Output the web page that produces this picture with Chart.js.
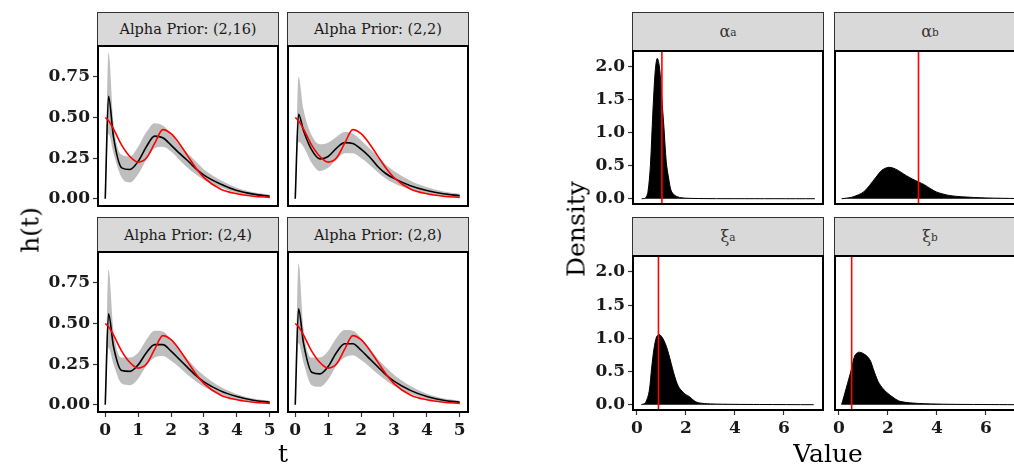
<!DOCTYPE html>
<html>
<head>
<meta charset="utf-8">
<script src="https://cdn.jsdelivr.net/npm/chart.js@4.4.1/dist/chart.umd.min.js"></script>
<style>
  html, body { margin: 0; padding: 0; background: #fff; }
  body { width: 1014px; height: 465px; overflow: hidden; position: relative; font-family: "DejaVu Serif", serif; }
  canvas { position: absolute; }
  .frame { position: absolute; border: 2px solid #000; box-sizing: border-box; pointer-events: none; }
  .strip { position: absolute; background: #d9d9d9; border: 1px solid #333; box-sizing: border-box;
           display: flex; align-items: center; justify-content: center; color: #1a1a1a; font-size: 14.5px; }
  .strip.greek { font-size: 16px; color: #333; }
  .strip sub { font-size: 10.5px; vertical-align: -3px; }
  .title { position: absolute; font-size: 25px; color: #000; white-space: nowrap; }
</style>
</head>
<body>
<script>
// hazard panels: t grid, true hazard (red), posterior mean (black), 95% band (grey)
const tGrid = [0, 0.1, 0.25, 0.5, 0.75, 1, 1.25, 1.5, 1.75, 2, 2.25, 2.5, 2.75, 3, 3.5, 4, 4.5, 5];
const trueHazard = [0.50, 0.48, 0.43, 0.33, 0.26, 0.225, 0.25, 0.34, 0.425, 0.40, 0.34, 0.265, 0.19, 0.13, 0.06, 0.03, 0.015, 0.008];

const priorLabels = ['Alpha Prior: (2,16)', 'Alpha Prior: (2,2)', 'Alpha Prior: (2,4)', 'Alpha Prior: (2,8)'];
const meanH = [
  [0, 0.63, 0.38, 0.19, 0.18, 0.23, 0.32, 0.385, 0.375, 0.33, 0.28, 0.235, 0.185, 0.145, 0.09, 0.05, 0.028, 0.015],
  [0, 0.52, 0.42, 0.30, 0.245, 0.26, 0.31, 0.345, 0.34, 0.305, 0.26, 0.20, 0.155, 0.125, 0.08, 0.05, 0.03, 0.018],
  [0, 0.56, 0.36, 0.21, 0.205, 0.245, 0.32, 0.37, 0.37, 0.33, 0.28, 0.23, 0.18, 0.14, 0.085, 0.05, 0.027, 0.015],
  [0, 0.59, 0.38, 0.20, 0.19, 0.235, 0.32, 0.375, 0.375, 0.335, 0.285, 0.235, 0.185, 0.145, 0.088, 0.05, 0.027, 0.015]
];
const lowerH = [
  [0, 0.40, 0.28, 0.13, 0.10, 0.15, 0.24, 0.31, 0.32, 0.29, 0.24, 0.19, 0.15, 0.115, 0.07, 0.035, 0.018, 0.008],
  [0, 0.35, 0.32, 0.22, 0.17, 0.19, 0.24, 0.28, 0.28, 0.25, 0.21, 0.165, 0.125, 0.095, 0.055, 0.03, 0.015, 0.008],
  [0, 0.35, 0.25, 0.13, 0.12, 0.16, 0.24, 0.29, 0.30, 0.27, 0.23, 0.185, 0.145, 0.11, 0.065, 0.035, 0.017, 0.008],
  [0, 0.38, 0.26, 0.12, 0.11, 0.155, 0.24, 0.29, 0.305, 0.275, 0.235, 0.19, 0.15, 0.115, 0.068, 0.035, 0.017, 0.008]
];
const upperH = [
  [0, 0.90, 0.47, 0.27, 0.26, 0.32, 0.41, 0.465, 0.45, 0.40, 0.33, 0.28, 0.23, 0.18, 0.115, 0.068, 0.04, 0.025],
  [0, 0.75, 0.55, 0.39, 0.335, 0.345, 0.38, 0.41, 0.40, 0.36, 0.31, 0.26, 0.21, 0.17, 0.11, 0.07, 0.045, 0.03],
  [0, 0.83, 0.46, 0.29, 0.29, 0.32, 0.40, 0.455, 0.45, 0.40, 0.34, 0.28, 0.225, 0.18, 0.11, 0.065, 0.038, 0.025],
  [0, 0.87, 0.47, 0.29, 0.29, 0.33, 0.41, 0.46, 0.455, 0.41, 0.345, 0.285, 0.23, 0.185, 0.115, 0.068, 0.04, 0.025]
];
const hazardTicksY = [0, 0.25, 0.5, 0.75];
const hazardTicksX = [0, 1, 2, 3, 4, 5];

// posterior densities of the parameters, with true values (red)
const paramLabels = ['α<sub>a</sub>', 'α<sub>b</sub>', 'ξ<sub>a</sub>', 'ξ<sub>b</sub>'];
const trueValues = [1.02, 3.25, 0.88, 0.52];
const alphaAx = [0.19, 0.35, 0.45, 0.55, 0.65, 0.75, 0.83, 0.92, 1.0, 1.1, 1.2, 1.3, 1.4, 1.55, 1.8, 2.5, 4.0, 7.27];
const alphaAy = [0, 0.01, 0.1, 0.5, 1.3, 1.95, 2.13, 2.0, 1.6, 1.1, 0.55, 0.3, 0.12, 0.05, 0.015, 0.003, 0.001, 0];
const alphaBx = [0.11, 0.5, 0.8, 1.0, 1.25, 1.5, 1.75, 2.0, 2.25, 2.5, 2.75, 3.0, 3.25, 3.5, 3.75, 4.0, 4.5, 5.0, 6.0, 7.27];
const alphaBy = [0, 0.02, 0.06, 0.1, 0.2, 0.32, 0.43, 0.475, 0.46, 0.41, 0.35, 0.30, 0.255, 0.21, 0.15, 0.10, 0.05, 0.03, 0.012, 0.003];
const xiAx = [0.18, 0.35, 0.5, 0.6, 0.7, 0.8, 0.9, 1.0, 1.1, 1.2, 1.3, 1.4, 1.5, 1.6, 1.7, 1.85, 2.0, 2.15, 2.3, 2.5, 3.0, 4.0, 5.0, 7.22];
const xiAy = [0, 0.03, 0.2, 0.55, 0.85, 1.02, 1.06, 1.03, 0.97, 0.88, 0.76, 0.62, 0.48, 0.36, 0.27, 0.2, 0.15, 0.12, 0.07, 0.03, 0.012, 0.005, 0.003, 0];
const xiBx = [0.11, 0.3, 0.5, 0.65, 0.8, 1.0, 1.2, 1.3, 1.4, 1.5, 1.6, 1.7, 1.85, 2.0, 2.25, 2.5, 3.0, 3.5, 4.5, 7.2];
const xiBy = [0, 0.25, 0.52, 0.74, 0.79, 0.77, 0.71, 0.65, 0.54, 0.44, 0.35, 0.29, 0.22, 0.17, 0.10, 0.05, 0.025, 0.015, 0.006, 0];
const densityTicksY = [0, 0.5, 1, 1.5, 2];
const densityTicksX = [0, 2, 4, 6];

const FONT = '"DejaVu Serif", serif';
const TICK_FONT = { family: FONT, size: 17, weight: 'bold' };

// plot rectangles
const hazardRects = [
  { x: 98, y: 46, w: 180, h: 160, strip: 12, showY: true, showX: false },
  { x: 288, y: 46, w: 180, h: 160, strip: 12, showY: false, showX: false },
  { x: 98, y: 252, w: 180, h: 160, strip: 217, showY: true, showX: true },
  { x: 288, y: 252, w: 180, h: 160, strip: 217, showY: false, showX: true }
];
const densityRects = [
  { x: 633, y: 51, w: 190, h: 153, strip: 12, showY: true, showX: false },
  { x: 835, y: 51, w: 190, h: 153, strip: 12, showY: false, showX: false },
  { x: 633, y: 256, w: 190, h: 154, strip: 217, showY: true, showX: true },
  { x: 835, y: 256, w: 190, h: 154, strip: 217, showY: false, showX: true }
];

const LEFT = 60, BOTTOM = 38, GAP = 8;

function addDiv(cls, x, y, w, h, html) {
  const d = document.createElement('div');
  d.className = cls;
  Object.assign(d.style, { left: x + 'px', top: y + 'px', width: w + 'px', height: h + 'px' });
  if (html) d.innerHTML = html;
  document.body.appendChild(d);
  return d;
}

function axis(show, min, max, ticks, fmt, isX) {
  return {
    type: 'linear', display: show, min: min, max: max,
    afterBuildTicks: s => { s.ticks = ticks.map(v => ({ value: v })); },
    afterFit: s => {
      s.paddingTop = 0; s.paddingBottom = 0; s.paddingLeft = 0; s.paddingRight = 0;
      if (!show) return;
      if (isX) s.height = BOTTOM; else s.width = LEFT;
    },
    border: { display: false },
    grid: { drawOnChartArea: false, drawTicks: true, tickLength: 5, tickColor: '#333', tickWidth: 1.2 },
    ticks: { font: TICK_FONT, color: '#1a1a1a', padding: 3, callback: v => fmt(v) }
  };
}

function makePanel(r, datasets, xr, yr, xt, yt, xf, yf) {
  const L = r.showY ? LEFT : GAP, B = r.showX ? BOTTOM : 0;
  const cv = document.createElement('canvas');
  cv.width = r.w + L; cv.height = r.h + B;
  cv.style.left = (r.x - L) + 'px'; cv.style.top = r.y + 'px';
  document.body.appendChild(cv);
  new Chart(cv.getContext('2d'), {
    type: 'line',
    data: { datasets: datasets },
    options: {
      responsive: false, animation: false, parsing: false,
      layout: { padding: { left: r.showY ? 0 : GAP, top: 0, right: 0, bottom: 0 } },
      plugins: { legend: { display: false }, tooltip: { enabled: false } },
      elements: { point: { radius: 0 } },
      scales: {
        x: axis(r.showX, xr[0], xr[1], xt, xf, true),
        y: axis(r.showY, yr[0], yr[1], yt, yf, false)
      }
    }
  });
  addDiv('frame', r.x - 1, r.y - 1, r.w + 2, r.h + 2);
}

function pts(xs, ys) { return xs.map((x, i) => ({ x: x, y: ys[i] })); }

hazardRects.forEach((r, i) => {
  addDiv('strip', r.x - 1, r.strip, r.w + 2, r.y - r.strip, priorLabels[i]);
  makePanel(r, [
    { data: pts(tGrid, lowerH[i]), borderWidth: 0, fill: false, order: 4, cubicInterpolationMode: 'monotone' },
    { data: pts(tGrid, upperH[i]), borderWidth: 0, fill: '-1', backgroundColor: '#bebebe', order: 3, cubicInterpolationMode: 'monotone' },
    { data: pts(tGrid, meanH[i]), borderColor: '#000', borderWidth: 1.6, fill: false, order: 2, cubicInterpolationMode: 'monotone' },
    { data: pts(tGrid, trueHazard), borderColor: '#ff0000', borderWidth: 1.6, fill: false, order: 1, cubicInterpolationMode: 'monotone' }
  ], [-0.22, 5.25], [-0.045, 0.94], hazardTicksX, hazardTicksY, v => String(v), v => v.toFixed(2));
});

const densX = [alphaAx, alphaBx, xiAx, xiBx];
const densY = [alphaAy, alphaBy, xiAy, xiBy];
densityRects.forEach((r, i) => {
  addDiv('strip greek', r.x - 1, r.strip, r.w + 2, r.y - r.strip, paramLabels[i]);
  makePanel(r, [
    { data: pts(densX[i], densY[i]), borderColor: '#000', borderWidth: 1, backgroundColor: '#000', fill: 'origin', order: 2, tension: 0.3 },
    { data: [{ x: trueValues[i], y: -1 }, { x: trueValues[i], y: 3 }], borderColor: '#ff0000', borderWidth: 1.6, fill: false, order: 1 }
  ], [-0.16, 7.6], [-0.08, 2.24], densityTicksX, densityTicksY, v => String(v), v => v.toFixed(1));
});

// axis titles
function title(text, x, y, rotate) {
  const d = addDiv('title', 0, 0, 0, 0, text);
  Object.assign(d.style, { left: x + 'px', top: y + 'px', width: 'auto', height: 'auto',
    transform: 'translate(-50%,-50%)' + (rotate ? ' rotate(-90deg)' : '') });
}
title('h(t)', 30, 230, true);
title('t', 283, 453, false);
title('Density', 576, 229, true);
title('Value', 828, 453, false);
</script>
</body>
</html>
